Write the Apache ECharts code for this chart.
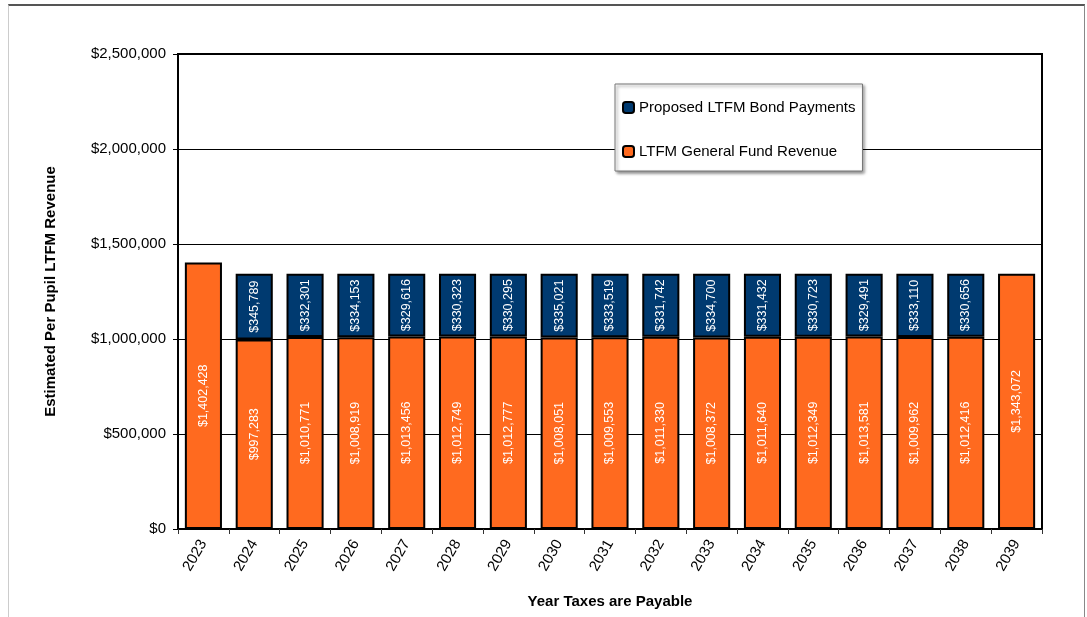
<!DOCTYPE html>
<html lang="en">
<head>
    <meta charset="UTF-8">
    <title>LTFM Revenue</title>
    <script src="https://cdn.jsdelivr.net/npm/echarts@6/dist/echarts.min.js"></script>
</head>
<body style="margin:0;background:#fff">
<div id="frame" style="position:absolute;left:8px;top:4px;width:1077px;height:613px;border-top:2px solid #555;border-left:1px solid #ccc;border-right:1px solid #888;box-sizing:border-box"></div>
<div id="chart" style="position:absolute;left:0;top:0;width:1087px;height:617px"></div>
<script>
    var years = ['2023', '2024', '2025', '2026', '2027', '2028', '2029', '2030', '2031',
        '2032', '2033', '2034', '2035', '2036', '2037', '2038', '2039'];
    // LTFM general fund revenue (orange)
    var generalFund = [1402428, 997283, 1010771, 1008919, 1013456, 1012749, 1012777, 1008051,
        1009553, 1011330, 1008372, 1011640, 1012349, 1013581, 1009962, 1012416, 1343072];
    // proposed bond payments (navy), none in first and last year
    var bondPayments = [null, 345789, 332301, 334153, 329616, 330323, 330295, 335021,
        333519, 331742, 334700, 331432, 330723, 329491, 333110, 330656, null];
    var yTicks = [0, 500000, 1000000, 1500000, 2000000, 2500000];

    function money(v) {
        return '$' + Number(v).toLocaleString('en-US');
    }

    var myChart = echarts.init(document.getElementById('chart'));
    var font = 'Liberation Sans, Arial, sans-serif';

    var barLabel = {
        show: true,
        position: 'inside',
        rotate: 90,
        color: '#fff',
        fontFamily: font,
        fontSize: 12.5,
        formatter: function (p) { return money(p.value); }
    };

    var option = {
        animation: false,
        textStyle: {fontFamily: font},
        grid: {
            left: 178, right: 45, top: 54, bottom: 88,
            show: true, borderColor: '#000', borderWidth: 2
        },
        legend: {
            orient: 'vertical',
            left: 615, top: 84,
            width: 247, height: 88,
            padding: [16, 7, 12, 7],
            itemGap: 29,
            itemWidth: 11, itemHeight: 11,
            backgroundColor: '#fff',
            borderColor: '#777', borderWidth: 1,
            shadowColor: 'rgba(0,0,0,0.45)', shadowBlur: 3, shadowOffsetX: 2, shadowOffsetY: 2,
            textStyle: {fontFamily: font, fontSize: 15, color: '#000'},
            data: ['Proposed LTFM Bond Payments', 'LTFM General Fund Revenue']
        },
        xAxis: {
            type: 'category',
            data: years,
            name: 'Year Taxes are Payable',
            nameLocation: 'middle',
            nameGap: 65,
            nameTextStyle: {fontWeight: 'bold', fontSize: 15, color: '#000', fontFamily: font},
            axisLine: {lineStyle: {color: '#000', width: 2}},
            axisTick: {show: true, length: 5, lineStyle: {color: '#333'}},
            axisLabel: {rotate: 60, fontSize: 15, color: '#000', margin: 12, fontFamily: font}
        },
        yAxis: {
            type: 'value',
            min: yTicks[0],
            max: yTicks[yTicks.length - 1],
            interval: yTicks[1] - yTicks[0],
            name: 'Estimated Per Pupil LTFM Revenue',
            nameLocation: 'middle',
            nameGap: 120,
            nameTextStyle: {fontWeight: 'bold', fontSize: 15, color: '#000', fontFamily: font},
            axisLine: {show: true, lineStyle: {color: '#000', width: 2}},
            axisTick: {show: true, length: 5, lineStyle: {color: '#000'}},
            axisLabel: {fontSize: 15, color: '#000', margin: 12, fontFamily: font, formatter: money},
            splitLine: {lineStyle: {color: '#000', width: 1}}
        },
        series: [
            {
                name: 'LTFM General Fund Revenue',
                type: 'bar',
                stack: 'total',
                barCategoryGap: '27%',
                itemStyle: {color: '#FF6A1F', borderColor: '#000', borderWidth: 2},
                label: barLabel,
                data: generalFund
            },
            {
                name: 'Proposed LTFM Bond Payments',
                type: 'bar',
                stack: 'total',
                itemStyle: {color: '#003A70', borderColor: '#000', borderWidth: 2},
                label: barLabel,
                data: bondPayments
            }
        ]
    };
    myChart.setOption(option);
</script>
</body>
</html>
